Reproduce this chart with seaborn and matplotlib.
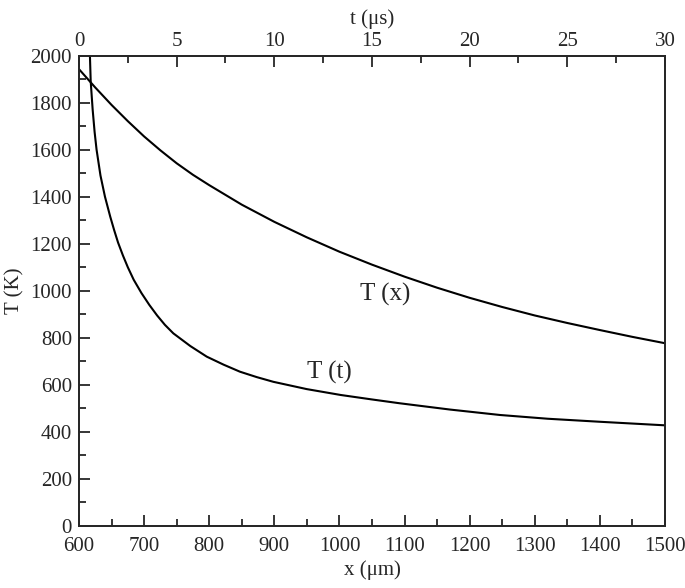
import seaborn as sns
import numpy as np
import matplotlib.pyplot as plt
from matplotlib.ticker import MultipleLocator

# T(x) along bottom axis
x_um = [600, 625, 650, 675, 700, 725, 750, 775, 800, 850, 900, 950, 1000, 1050, 1100,
        1150, 1200, 1250, 1300, 1350, 1400, 1450, 1500]
T_x = [1942, 1864, 1790, 1721, 1656, 1597, 1542, 1493, 1449, 1366, 1293, 1227, 1166, 1111, 1060,
       1013, 970, 931, 895, 863, 833, 804, 777]

# T(t) along top axis
t_us = [0.52, 0.56, 0.6, 0.7, 0.8, 0.9, 1.1, 1.33, 1.6, 1.8, 2.0, 2.25, 2.5, 2.8, 3.2, 3.6,
        4.0, 4.4, 4.83, 5.7, 6.54, 7.4, 8.24, 9.1, 9.95, 11.66, 13.4, 15, 16.4, 19, 21.55,
        24, 26.7, 30]
T_t = [2130, 2000, 1890, 1770, 1675, 1600, 1490, 1400, 1315, 1258, 1205, 1150, 1100, 1047, 990, 940,
       895, 855, 819, 765, 720, 686, 656, 633, 613, 582, 557, 538, 522, 495, 472,
       456, 443, 428]

sns.set_style("ticks")
plt.rcParams['font.family'] = ['Liberation Serif', 'DejaVu Serif']
fs = 15

fig = plt.figure(figsize=(6.85, 5.88), dpi=100)
ax = fig.add_axes([0.1153, 0.1054, 0.9708 - 0.1153, 0.9056 - 0.1054])

sns.lineplot(x=x_um, y=T_x, ax=ax, color='black', linewidth=1.5)
ax.set_xlim(600, 1500)
ax.set_ylim(0, 2000)
ax.xaxis.set_major_locator(MultipleLocator(100))
ax.xaxis.set_minor_locator(MultipleLocator(50))
ax.yaxis.set_major_locator(MultipleLocator(200))
ax.yaxis.set_minor_locator(MultipleLocator(100))
ax.tick_params(which='both', direction='in', labelsize=fs, width=1.3, right=False, top=False)
ax.tick_params(which='major', length=8)
ax.tick_params(which='minor', length=5)
ax.tick_params(axis='x', pad=8)
ax.tick_params(axis='y', pad=5)
ax.set_xlabel('x (μm)', fontsize=fs, labelpad=3)
ax.set_ylabel('T (K)', fontsize=fs, labelpad=4)

ax2 = ax.twiny()
sns.lineplot(x=t_us, y=T_t, ax=ax2, color='black', linewidth=1.5)
ax2.set_xlim(0, 30)
ax2.set_ylim(0, 2000)
ax2.xaxis.set_major_locator(MultipleLocator(5))
ax2.xaxis.set_minor_locator(MultipleLocator(2.5))
ax2.tick_params(which='both', direction='in', labelsize=fs, width=1.3, pad=3)
ax2.tick_params(which='major', length=8)
ax2.tick_params(which='minor', length=5)
ax2.set_xlabel('t (μs)', fontsize=fs, labelpad=6)

for a in (ax, ax2):
    for s in a.spines.values():
        s.set_linewidth(1.3)
        s.set_visible(True)

ax.text(1070, 983, 'T (x)', fontsize=18, ha='center', va='center')
ax.text(985, 651, 'T (t)', fontsize=18, ha='center', va='center')

fig.savefig('out.png', dpi=100)
